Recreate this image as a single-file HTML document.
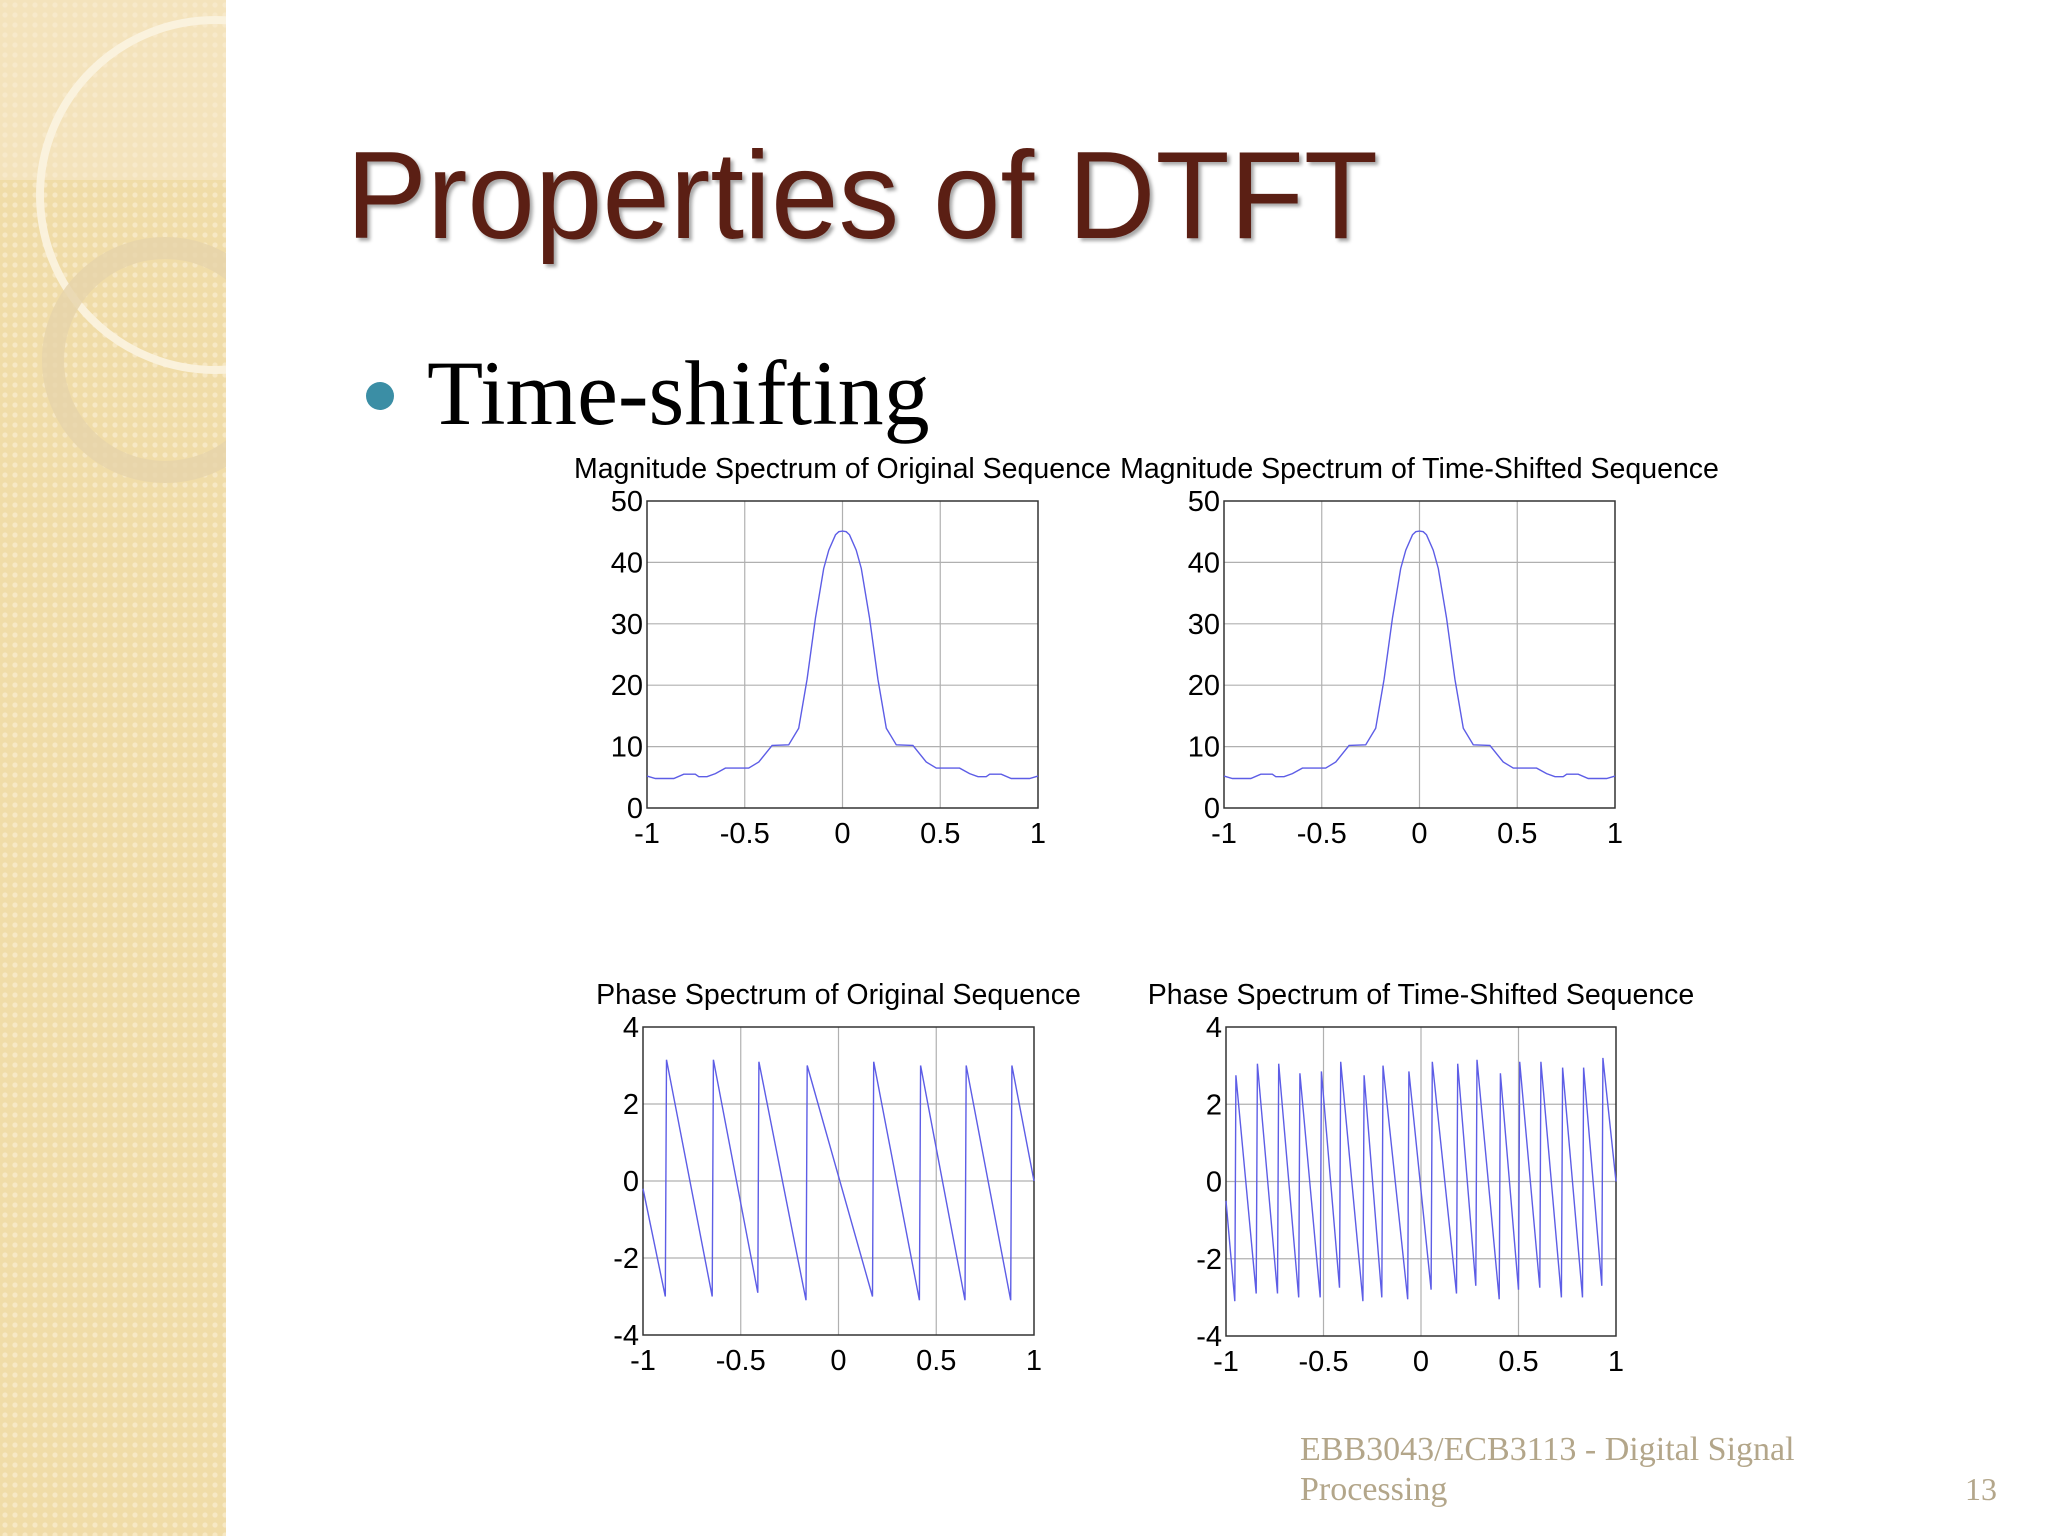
<!DOCTYPE html>
<html><head><meta charset="utf-8"><style>
html,body{margin:0;padding:0;width:2048px;height:1536px;overflow:hidden;background:#fff}
svg{display:block}
</style></head><body>
<svg id="s" width="2048" height="1536" viewBox="0 0 2048 1536" xmlns="http://www.w3.org/2000/svg" font-family="Liberation Sans, sans-serif">
<defs>
<pattern id="pt" width="10" height="10" patternUnits="userSpaceOnUse">
<rect width="10" height="10" fill="#f0dca8"/><circle cx="5" cy="5" r="2.6" fill="#f7e8c4"/>
</pattern>
</defs>
<rect x="0" y="0" width="226" height="1536" fill="url(#pt)"/>
<rect x="0" y="0" width="226" height="180" fill="#f7ead0" opacity="0.5"/>
<circle cx="215" cy="195" r="175" fill="none" stroke="#fbf3e0" stroke-width="8" opacity="0.9"/>
<circle cx="165" cy="360" r="112" fill="none" stroke="#e6d3aa" stroke-width="22" opacity="0.8"/>
<rect x="226" y="0" width="1822" height="1536" fill="#fff"/>
<text x="346" y="238" font-size="124" textLength="1032" lengthAdjust="spacingAndGlyphs" fill="#5b1f14" style="text-shadow:3px 3px 4px rgba(0,0,0,0.35)">Properties of DTFT</text>
<circle cx="380" cy="396" r="14" fill="#3b8ea5"/>
<text x="427" y="424" font-size="92" font-family="Liberation Serif, serif" fill="#000">Time-shifting</text>
<g id="charts"></g>
<text x="1300" y="1460" font-size="34" font-family="Liberation Serif, serif" fill="#b3a68a">EBB3043/ECB3113 - Digital Signal</text>
<text x="1300" y="1500" font-size="34" font-family="Liberation Serif, serif" fill="#b3a68a">Processing</text>
<text x="1965" y="1500" font-size="32" font-family="Liberation Serif, serif" fill="#b3a68a">13</text>
</svg>
<script>
const magX=[-1,-0.957,-0.863,-0.812,-0.753,-0.735,-0.693,-0.650,-0.599,-0.480,-0.428,-0.360,-0.275,-0.224,-0.181,-0.138,-0.096,-0.070,-0.036,-0.019,0,0.019,0.036,0.070,0.096,0.138,0.181,0.224,0.275,0.360,0.428,0.480,0.599,0.650,0.693,0.735,0.753,0.812,0.863,0.957,1];
const magY=[5.2,4.8,4.8,5.5,5.5,5.1,5.1,5.6,6.5,6.5,7.5,10.2,10.3,13,21,31,39,42,44.5,45,45.1,45,44.5,42,39,31,21,13,10.3,10.2,7.5,6.5,6.5,5.6,5.1,5.1,5.5,5.5,4.8,4.8,5.2];
const magShiftX=magX.slice();
const magShiftY=magY.slice();
const phOrigJumpX=[-0.88,-0.64,-0.407,-0.16,0.18,0.42,0.653,0.887];
const phOrigLow=[-3.0,-3.0,-2.9,-3.1,-3.0,-3.1,-3.1,-3.1];
const phOrigHigh=[3.15,3.15,3.1,3.0,3.1,3.0,3.0,3.0];
const phOrigStart=-0.2, phOrigEnd=0;
const phShiftJumpX=[-0.949,-0.839,-0.730,-0.621,-0.511,-0.412,-0.292,-0.195,-0.062,0.058,0.188,0.287,0.407,0.506,0.615,0.726,0.834,0.933];
const phShiftLow=[-3.1,-2.9,-2.9,-3.0,-3.0,-2.75,-3.1,-3.0,-3.05,-2.8,-2.9,-2.7,-3.05,-2.8,-2.75,-3.0,-3.0,-2.7];
const phShiftHigh=[2.75,3.05,3.05,2.8,2.85,3.1,2.75,3.0,2.85,3.1,3.05,3.15,2.8,3.1,3.1,2.95,2.95,3.2];
const phShiftStart=-0.5, phShiftEnd=0;
const xTicks=[-1,-0.5,0,0.5,1];
const xTickLabels=['-1','-0.5','0','0.5','1'];
const magTicks=[0,10,20,30,40,50];
const phTicks=[-4,-2,0,2,4];

const NS='http://www.w3.org/2000/svg';
const root=document.getElementById('charts');
function mk(tag,attrs,parent){const e=document.createElementNS(NS,tag);for(const k in attrs)e.setAttribute(k,attrs[k]);parent.appendChild(e);return e;}
function phasePts(jx,lo,hi,s,e){const xs=[-1],ys=[s];for(let i=0;i<jx.length;i++){xs.push(jx[i]-0.006);ys.push(lo[i]);xs.push(jx[i]);ys.push(hi[i]);}xs.push(1);ys.push(e);return [xs,ys];}
function chart(name,title,box,ymin,ymax,yt,xs,ys){
  const g=mk('g',{},root);
  
  
  const [L,T,R,B]=box;
  const sx=v=>L+(v+1)/2*(R-L);
  const sy=v=>B-(v-ymin)/(ymax-ymin)*(B-T);
  const bg=mk('rect',{x:L,y:T,width:R-L,height:B-T,fill:'#fff'},g);
  
  
  xTicks.forEach((v,i)=>{
    if(i>0&&i<xTicks.length-1){const l=mk('line',{x1:sx(v),x2:sx(v),y1:T,y2:B,stroke:'#b0b0b0','stroke-width':1.2},g);
    
    }
    const t=mk('text',{x:sx(v),y:B+35,'font-size':29,'text-anchor':'middle',fill:'#000'},g);
    t.textContent=xTickLabels[i];
    
    
  });
  yt.forEach((v,i)=>{
    if(i>0&&i<yt.length-1){const l=mk('line',{x1:L,x2:R,y1:sy(v),y2:sy(v),stroke:'#b0b0b0','stroke-width':1.2},g);
    
    }
    const t=mk('text',{x:L-4,y:sy(v)+10,'font-size':29,'text-anchor':'end',fill:'#000'},g);
    t.textContent=String(v);
    
    
  });
  const fr=mk('rect',{x:L,y:T,width:R-L,height:B-T,fill:'none',stroke:'#333','stroke-width':1.5},g);
  
  
  const p=mk('polyline',{points:xs.map((x,i)=>sx(x).toFixed(1)+','+sy(ys[i]).toFixed(1)).join(' '),fill:'none',stroke:'#5d5de6','stroke-width':1.4},g);
  
  
  const tt=mk('text',{x:(L+R)/2,y:T-23,'font-size':28.5,'text-anchor':'middle',fill:'#000'},g);
  tt.textContent=title;
  
  
}
chart('magnitude-original-chart','Magnitude Spectrum of Original Sequence',[647,501,1038,808],0,50,magTicks,magX,magY);
chart('magnitude-shifted-chart','Magnitude Spectrum of Time-Shifted Sequence',[1224,501,1615,808],0,50,magTicks,magShiftX,magShiftY);
const po=phasePts(phOrigJumpX,phOrigLow,phOrigHigh,phOrigStart,phOrigEnd);
chart('phase-original-chart','Phase Spectrum of Original Sequence',[643,1027,1034,1335],-4,4,phTicks,po[0],po[1]);
const ps=phasePts(phShiftJumpX,phShiftLow,phShiftHigh,phShiftStart,phShiftEnd);
chart('phase-shifted-chart','Phase Spectrum of Time-Shifted Sequence',[1226,1027,1616,1336],-4,4,phTicks,ps[0],ps[1]);
</script>
</body></html>
